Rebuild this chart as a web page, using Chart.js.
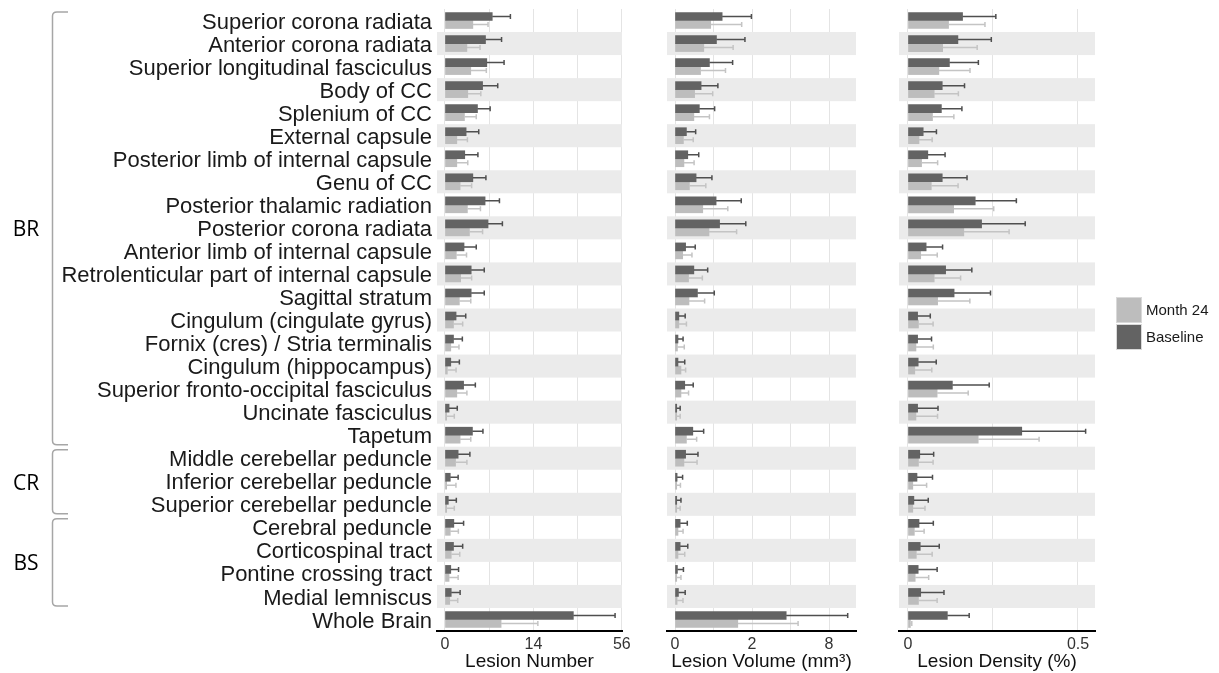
<!DOCTYPE html>
<html>
<head>
<meta charset="utf-8">
<script src="https://cdn.jsdelivr.net/npm/chart.js@4.4.0/dist/chart.umd.min.js"></script>
<style>
  body { margin: 0; background: #fff; }
  #wrap { position: relative; width: 1219px; height: 673px; }
  canvas { position: absolute; left: 0; top: 0; }
  .key { position: absolute; left: 1116px; width: 24px; height: 24px; border: 1px solid #d9d9d9; }
  .keytext { position: absolute; left: 1146px; font: 15px 'Liberation Sans', Arial, sans-serif; color: #1a1a1a; }
</style>
</head>
<body>
<div id="wrap">
  <canvas id="number" width="1219" height="673"></canvas>
  <canvas id="volume" width="1219" height="673"></canvas>
  <canvas id="density" width="1219" height="673"></canvas>
  <div class="key" style="top:297px;background:#bdbdbd"></div>
  <div class="keytext" style="top:301px">Month 24</div>
  <div class="key" style="top:324px;background:#636363"></div>
  <div class="keytext" style="top:328px">Baseline</div>
</div>
<script>
document.addEventListener('DOMContentLoaded', init);

const regions = [
    'Superior corona radiata', 'Anterior corona radiata', 'Superior longitudinal fasciculus',
    'Body of CC', 'Splenium of CC', 'External capsule', 'Posterior limb of internal capsule',
    'Genu of CC', 'Posterior thalamic radiation', 'Posterior corona radiata',
    'Anterior limb of internal capsule', 'Retrolenticular part of internal capsule',
    'Sagittal stratum', 'Cingulum (cingulate gyrus)', 'Fornix (cres) / Stria terminalis',
    'Cingulum (hippocampus)', 'Superior fronto-occipital fasciculus', 'Uncinate fasciculus',
    'Tapetum', 'Middle cerebellar peduncle', 'Inferior cerebellar peduncle',
    'Superior cerebellar peduncle', 'Cerebral peduncle', 'Corticospinal tract',
    'Pontine crossing tract', 'Medial lemniscus', 'Whole Brain'
];

// brain groups: label, first region index, last region index
const groups = [['BR', 0, 18], ['CR', 19, 21], ['BS', 22, 25]];

const numBase   = [4.00, 2.94, 3.13, 2.53, 1.89, 0.80, 0.70, 1.39, 2.88, 3.32, 0.65, 1.23, 1.23, 0.22, 0.13, 0.06, 0.62, 0.03, 1.35, 0.31, 0.05, 0.02, 0.14, 0.13, 0.06, 0.07, 29.5];
const numBaseSd = [3.66, 2.79, 3.12, 2.45, 1.76, 1.24, 1.24, 1.61, 2.43, 2.58, 1.10, 1.53, 1.53, 0.55, 0.41, 0.31, 1.03, 0.24, 1.23, 0.80, 0.26, 0.21, 0.48, 0.43, 0.27, 0.34, 22.3];
const numM24    = [1.39, 0.86, 1.19, 0.93, 0.68, 0.25, 0.25, 0.41, 0.90, 1.07, 0.23, 0.44, 0.37, 0.13, 0.06, 0.01, 0.25, 0.005, 0.41, 0.20, 0.005, 0.005, 0.05, 0.07, 0.03, 0.04, 5.64];
const numM24Sd  = [1.93, 1.34, 1.87, 1.37, 1.07, 0.65, 0.68, 0.86, 1.35, 1.46, 0.60, 0.83, 0.82, 0.43, 0.29, 0.21, 0.61, 0.15, 0.78, 0.66, 0.21, 0.15, 0.27, 0.32, 0.28, 0.25, 9.8];

const volBase   = [0.75, 0.58, 0.40, 0.23, 0.20, 0.044, 0.055, 0.15, 0.57, 0.67, 0.038, 0.12, 0.17, 0.005, 0.003, 0.003, 0.032, 0.001, 0.107, 0.038, 0.0015, 0.001, 0.009, 0.009, 0.002, 0.004, 4.17];
const volBaseSd = [1.22, 1.07, 0.72, 0.39, 0.33, 0.10, 0.135, 0.31, 0.91, 1.02, 0.10, 0.24, 0.35, 0.03, 0.019, 0.029, 0.08, 0.008, 0.17, 0.14, 0.018, 0.011, 0.042, 0.046, 0.022, 0.031, 5.89];
const volM24    = [0.43, 0.28, 0.22, 0.13, 0.12, 0.024, 0.027, 0.07, 0.26, 0.39, 0.02, 0.062, 0.066, 0.005, 0.002, 0.012, 0.012, 0.001, 0.044, 0.027, 0.001, 0.001, 0.003, 0.003, 0.001, 0.0015, 1.33];
const volM24Sd  = [1.07, 0.86, 0.64, 0.35, 0.28, 0.088, 0.096, 0.25, 0.68, 0.89, 0.077, 0.19, 0.23, 0.039, 0.027, 0.026, 0.05, 0.008, 0.114, 0.137, 0.009, 0.008, 0.019, 0.029, 0.011, 0.02, 3.78];

const densBase   = [0.0515, 0.0431, 0.0297, 0.0203, 0.0193, 0.0040, 0.0068, 0.0203, 0.0782, 0.0937, 0.0057, 0.0245, 0.0368, 0.0016, 0.0016, 0.0018, 0.0341, 0.0016, 0.2239, 0.0024, 0.0014, 0.0006, 0.0021, 0.0026, 0.0018, 0.0028, 0.0268];
const densBaseSd = [0.082, 0.077, 0.056, 0.035, 0.031, 0.010, 0.017, 0.040, 0.125, 0.144, 0.015, 0.046, 0.081, 0.007, 0.008, 0.012, 0.080, 0.014, 0.322, 0.009, 0.009, 0.0065, 0.009, 0.0143, 0.0129, 0.0196, 0.038];
const densM24    = [0.0285, 0.0208, 0.0165, 0.0119, 0.0104, 0.0021, 0.0032, 0.0094, 0.0361, 0.0539, 0.0028, 0.0119, 0.0152, 0.0019, 0.0011, 0.0008, 0.0147, 0.0011, 0.0853, 0.0019, 0.0004, 0.0004, 0.0007, 0.0012, 0.0009, 0.0019, 0.0001];
const densM24Sd  = [0.074, 0.062, 0.050, 0.032, 0.026, 0.008, 0.012, 0.034, 0.091, 0.123, 0.012, 0.036, 0.051, 0.009, 0.010, 0.009, 0.048, 0.014, 0.212, 0.009, 0.0056, 0.0046, 0.0038, 0.0089, 0.0065, 0.0128, 0.00015];

const numTicks = [0, 14, 56];
const volTicks = [0, 2, 8];
const densTicks = [0, 0.5];

const FONT = "'Liberation Sans', Arial, sans-serif";
const DARK = '#636363', LIGHT = '#bdbdbd';

// square-root axis (like ggplot scale_x_sqrt); rootStart is the left edge in sqrt units
class SqrtScale extends Chart.LinearScale
{
    buildTicks()
    {
        return this.options.gridValues.map(v => ({ value: v }));
    }
    getPixelForValue(value)
    {
        const lo = this.options.rootStart, hi = Math.sqrt(this.max);
        return this.getPixelForDecimal((Math.sqrt(Math.max(value, 0)) - lo) / (hi - lo));
    }
    getValueForPixel(pixel)
    {
        const lo = this.options.rootStart, hi = Math.sqrt(this.max);
        const r = lo + this.getDecimalForPixel(pixel) * (hi - lo);
        return r * r;
    }
}
SqrtScale.id = 'sqrt';
SqrtScale.defaults = Chart.LinearScale.defaults;

// minor gridlines half way between the majors, in sqrt space
function withMinors(majors)
{
    const out = [];
    majors.forEach((m, i) => {
        out.push(m);
        if (i < majors.length - 1) {
            const r = (Math.sqrt(m) + Math.sqrt(majors[i + 1])) / 2;
            out.push(r * r);
        }
    });
    return out;
}

const bandsPlugin = {
    id: 'bands',
    beforeDatasetsDraw(chart)
    {
        const { ctx, chartArea: a, scales: { y } } = chart;
        const h = (a.bottom - a.top) / regions.length;
        ctx.save();
        ctx.fillStyle = '#ebebeb';
        regions.forEach((r, i) => {
            if (i % 2 === 1) ctx.fillRect(a.left, y.getPixelForValue(i) - h / 2, a.right - a.left, h);
        });
        ctx.restore();
    }
};

const errorBarPlugin = {
    id: 'errorBars',
    afterDatasetsDraw(chart)
    {
        const { ctx, scales: { x } } = chart;
        chart.data.datasets.forEach((ds, di) => {
            const meta = chart.getDatasetMeta(di);
            ctx.save();
            ctx.strokeStyle = ds.errColor;
            ctx.lineWidth = 1.5;
            meta.data.forEach((bar, i) => {
                const xe = x.getPixelForValue(ds.data[i] + ds.sd[i]);
                ctx.beginPath();
                ctx.moveTo(bar.x, bar.y);
                ctx.lineTo(xe, bar.y);
                ctx.moveTo(xe, bar.y - 2.5);
                ctx.lineTo(xe, bar.y + 2.5);
                ctx.stroke();
            });
            ctx.restore();
        });
    }
};

const bracketPlugin = {
    id: 'brackets',
    afterDraw(chart)
    {
        const { ctx, chartArea: a, scales: { y } } = chart;
        const h = (a.bottom - a.top) / regions.length;
        ctx.save();
        ctx.strokeStyle = '#a6a6a6';
        ctx.lineWidth = 1.5;
        ctx.fillStyle = '#000';
        ctx.font = "21px 'Open Sans', sans-serif";
        ctx.textAlign = 'center';
        ctx.textBaseline = 'middle';
        groups.forEach(([label, first, last]) => {
            const top = y.getPixelForValue(first) - h / 2 + 3;
            const bottom = y.getPixelForValue(last) + h / 2 - 2;
            ctx.beginPath();
            ctx.moveTo(68, top);
            ctx.lineTo(57, top);
            ctx.quadraticCurveTo(52.5, top, 52.5, top + 4);
            ctx.lineTo(52.5, bottom - 4);
            ctx.quadraticCurveTo(52.5, bottom, 57, bottom);
            ctx.lineTo(68, bottom);
            ctx.stroke();
            ctx.fillText(label, 26, (top + bottom) / 2 + 2);
        });
        ctx.restore();
    }
};

function init()
{
    Chart.register(SqrtScale);
    createPanel('number', {
        base: numBase, baseSd: numBaseSd, m24: numM24, m24Sd: numM24Sd,
        ticks: numTicks, max: 56.1, rootStart: -0.338, title: 'Lesion Number',
        left: 0, right: 597, labels: true
    });
    createPanel('volume', {
        base: volBase, baseSd: volBaseSd, m24: volM24, m24Sd: volM24Sd,
        ticks: volTicks, max: 11.05, rootStart: -0.147, title: 'Lesion Volume (mm³)',
        left: 667, right: 363, labels: false
    });
    createPanel('density', {
        base: densBase, baseSd: densBaseSd, m24: densM24, m24Sd: densM24Sd,
        ticks: densTicks, max: 0.605, rootStart: -0.0374, title: 'Lesion Density (%)',
        left: 899, right: 124, labels: false
    });
}

function createPanel(id, p)
{
    const yAxis = p.labels ? {
        type: 'category',
        offset: true,
        grid: { display: false, drawTicks: false },
        border: { display: false },
        ticks: { autoSkip: false, padding: 5, labelOffset: 2, color: '#1a1a1a', font: { family: FONT, size: 22 } },
        afterFit: s => { s.width = 437; s.paddingTop = 0; s.paddingBottom = 0; }
    } : { type: 'category', offset: true, display: false };

    new Chart(document.getElementById(id),
    {
        type: 'bar',
        data: {
            labels: regions,
            datasets: [
                { label: 'Baseline', data: p.base, sd: p.baseSd, backgroundColor: DARK, errColor: '#4f4f4f' },
                { label: 'Month 24', data: p.m24, sd: p.m24Sd, backgroundColor: LIGHT, errColor: '#c4c4c4' }
            ]
        },
        options: {
            indexAxis: 'y',
            responsive: false,
            animation: false,
            barThickness: 8,
            layout: { padding: { left: p.left, right: p.right, top: 9, bottom: 0 } },
            plugins: { legend: { display: false }, tooltip: { enabled: false } },
            scales: {
                x: {
                    type: 'sqrt',
                    min: 0,
                    max: p.max,
                    rootStart: p.rootStart,
                    gridValues: withMinors(p.ticks),
                    grid: { color: '#e4e4e4', lineWidth: 1, drawTicks: false },
                    border: { display: true, color: '#000', width: 2 },
                    ticks: {
                        autoSkip: false, maxRotation: 0, padding: 4, color: '#333',
                        font: { family: FONT, size: 16 },
                        callback: v => p.ticks.includes(v) ? String(v) : ''
                    },
                    title: { display: true, text: p.title, color: '#111', font: { family: FONT, size: 19 }, padding: { top: 0, bottom: 0 } },
                    afterFit: s => { s.height = 42; s.paddingLeft = 0; s.paddingRight = 0; }
                },
                y: yAxis
            }
        },
        plugins: p.labels ? [bandsPlugin, errorBarPlugin, bracketPlugin] : [bandsPlugin, errorBarPlugin]
    });
}
</script>
</body>
</html>
